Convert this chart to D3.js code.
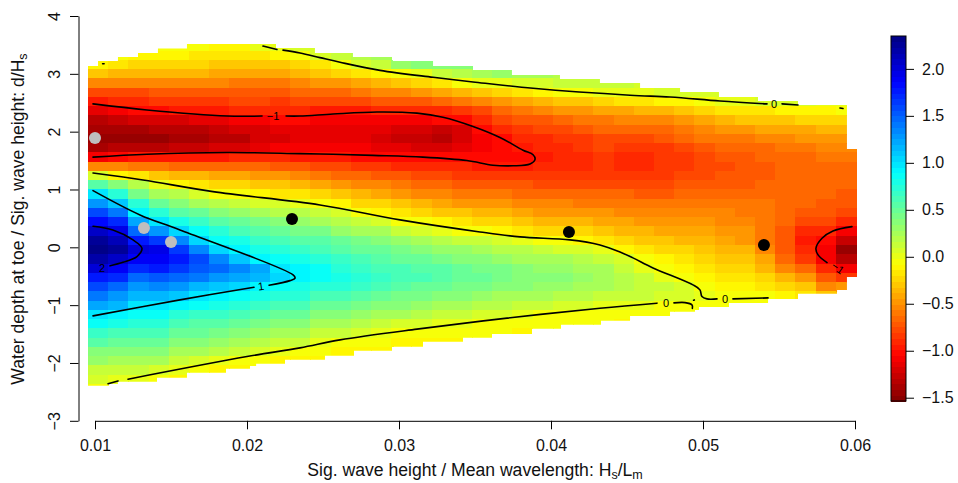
<!DOCTYPE html>
<html><head><meta charset="utf-8">
<script src="https://cdn.jsdelivr.net/npm/d3@7"></script>
<style>
html,body{margin:0;padding:0;background:#fff}
svg{display:block}
text{font-family:"Liberation Sans",Arial,sans-serif;fill:#111}
</style></head><body><svg id="c" width="958" height="483"></svg>
<script>
// ---- data ----
const xTicks=[0.01,0.02,0.03,0.04,0.05,0.06];
const yTicks=[-3,-2,-1,0,1,2,3,4];
const legendTicks=[-1.5,-1,-0.5,0,0.5,1,1.5,2];
const valueMin=-1.535, valueMax=2.35, levels=64;
const jetStops=[0,0.125,0.375,0.625,0.875,1];
const jetColors=["#800000","#ff0000","#ffff00","#00ffff","#0000ff","#000080"];
const cellW=0.00133, cellH=0.16;
const xCells=d3.range(38).map(i=>0.0102+i*cellW);
const yCells=[3.48,3.32,3.16,3,2.84,2.68,2.52,2.36,2.2,2.04,1.88,1.72,1.56,1.4,1.24,1.08,0.92,0.76,0.6,0.44,0.28,0.12,-0.04,-0.2,-0.36,-0.52,-0.68,-0.84,-1,-1.16,-1.32,-1.48,-1.64,-1.8,-1.96,-2.12,-2.28,-2.44];
// first row index of each column, then the column's values in hundredths
const firstRow=[2,1,1,0,0,0,0,0,0,0,0,0,1,1,1,2,2,2,2,3,3,3,3,3,4,4,4,4,5,5,5,5,6,6,6,6,6,6];
const fieldColumns=[
[-10,-30,-52,-78,-95,-115,-130,-140,-145,-138,-105,-55,5,55,100,130,160,185,205,225,230,220,200,180,160,140,125,100,85,70,55,40,30,15,5,-5],
[-5,-18,-35,-55,-78,-92,-108,-125,-140,-147,-135,-100,-55,-10,35,75,110,140,170,195,215,225,210,190,170,150,130,115,95,80,65,52,38,28,15,2],
[-8,-20,-35,-55,-75,-90,-103,-122,-138,-146,-132,-98,-60,-18,18,45,72,95,122,150,180,203,190,170,150,130,114,100,88,75,62,50,37,26,14,0],
[-2,-10,-20,-35,-55,-72,-86,-100,-120,-135,-143,-130,-97,-62,-28,2,26,50,75,100,130,165,195,190,175,155,135,115,97,85,72,60,47,35,23,10,-3],
[-4,-12,-22,-36,-55,-70,-84,-98,-118,-132,-140,-128,-96,-64,-33,-8,18,37,58,78,105,135,165,175,165,148,130,108,90,76,64,52,40,28,15,1,-8],
[-6,-14,-25,-38,-55,-70,-82,-95,-115,-130,-138,-125,-95,-65,-37,-15,8,28,48,68,85,107,135,160,155,138,118,98,84,70,58,47,35,23,10,-5],
[-8,-16,-27,-40,-56,-70,-81,-93,-112,-127,-134,-122,-94,-66,-40,-20,-2,20,38,56,73,88,105,135,148,130,110,93,78,66,54,42,30,17,2,-8],
[-8,-17,-28,-42,-57,-70,-80,-91,-108,-123,-130,-118,-92,-66,-44,-24,-6,14,32,48,64,78,92,110,135,125,105,88,74,62,50,38,26,13,-2,-10],
[-1,-16,-30,-44,-58,-70,-80,-92,-105,-118,-123,-113,-90,-68,-47,-28,-10,9,27,43,57,70,82,94,122,115,95,80,68,56,44,32,20,7,-6],
[3,-12,-28,-42,-57,-70,-81,-92,-103,-114,-118,-110,-90,-70,-50,-32,-14,5,22,37,50,63,75,87,98,105,88,74,62,50,38,26,13,0,-8],
[8,-4,-20,-36,-52,-66,-80,-92,-103,-112,-116,-108,-93,-74,-55,-36,-18,-1,17,32,46,58,70,80,90,95,83,72,60,50,38,26,12,-4,-10],
[10,5,-14,-32,-50,-65,-80,-93,-105,-112,-115,-108,-94,-76,-58,-40,-22,-5,12,28,42,54,65,75,84,87,75,63,51,39,27,15,3,-6,-10],
[15,-4,-26,-46,-63,-79,-93,-105,-112,-115,-108,-96,-80,-63,-46,-29,-12,5,20,34,47,58,68,76,80,72,60,47,35,23,11,-3,-8],
[22,5,-18,-41,-60,-77,-93,-105,-113,-117,-110,-99,-84,-68,-52,-36,-20,-2,14,28,41,52,62,70,74,68,56,43,31,18,5,-5,-8],
[28,12,-8,-34,-55,-74,-92,-106,-115,-120,-112,-101,-86,-71,-56,-41,-26,-10,8,23,36,47,57,65,69,62,51,39,27,14,1,-6,-9],
[30,-3,-28,-51,-72,-92,-108,-120,-125,-116,-103,-88,-74,-60,-46,-31,-17,-3,14,29,41,52,61,64,56,46,35,23,10,-2,-8],
[38,4,-22,-47,-70,-91,-108,-122,-128,-118,-104,-91,-78,-65,-51,-37,-23,-7,9,25,37,48,57,60,52,42,31,19,6,-4,-8],
[40,12,-14,-42,-67,-88,-104,-124,-130,-120,-104,-92,-80,-68,-55,-42,-28,-13,4,20,33,44,53,56,49,39,28,16,3,-5,-8],
[35,18,-6,-36,-62,-84,-100,-118,-122,-114,-103,-92,-81,-69,-57,-45,-32,-18,-2,16,29,40,49,52,46,36,25,13,1,-6,-8],
[28,0,-30,-55,-76,-90,-100,-110,-108,-100,-97,-84,-71,-59,-47,-35,-22,-7,12,25,36,45,48,42,32,21,9,-2,-7],
[30,2,-25,-48,-66,-79,-88,-99,-103,-102,-98,-85,-72,-60,-49,-38,-26,-11,8,22,33,42,43,38,28,17,5,-3,-7],
[28,7,-16,-42,-60,-74,-84,-92,-97,-102,-98,-86,-74,-63,-52,-42,-30,-17,3,17,28,37,40,36,26,15,2,-4,-8],
[25,10,-10,-36,-55,-69,-80,-88,-92,-94,-92,-85,-75,-65,-55,-45,-33,-20,-3,12,25,34,37,33,23,12,-2,-6],
[22,12,-5,-32,-50,-64,-76,-85,-89,-91,-90,-84,-75,-66,-56,-46,-35,-22,-4,10,23,32,35,31,21,9,-4,-7],
[14,-2,-27,-46,-60,-71,-82,-86,-88,-88,-83,-75,-66,-57,-48,-37,-25,-8,8,20,28,30,27,18,6,-4,-7],
[15,0,-22,-42,-57,-68,-75,-80,-84,-85,-83,-76,-67,-58,-50,-40,-29,-14,3,15,23,26,24,16,4,-4,-7],
[14,2,-18,-40,-56,-67,-76,-83,-87,-87,-83,-76,-68,-60,-52,-43,-33,-21,-8,5,15,21,20,12,2,-5,-8],
[10,4,-15,-38,-54,-66,-76,-84,-88,-87,-83,-76,-69,-62,-54,-46,-37,-27,-16,-6,4,13,16,11,0,-6],
[6,-12,-34,-51,-63,-73,-81,-85,-85,-81,-75,-69,-62,-55,-48,-40,-31,-21,-12,-5,4,12,8,-3,-6],
[7,-8,-29,-46,-58,-68,-76,-81,-81,-78,-73,-68,-62,-56,-49,-42,-34,-26,-18,-10,-3,6,6,-3,-6],
[8,-2,-22,-40,-52,-62,-70,-76,-77,-75,-71,-67,-62,-56,-50,-44,-37,-30,-23,-17,-11,-5,0,-3],
[8,0,-18,-36,-49,-60,-68,-73,-75,-74,-71,-67,-62,-56,-51,-47,-42,-35,-28,-21,-15,-9,-3,-5],
[2,-16,-32,-46,-57,-66,-71,-73,-72,-70,-66,-62,-57,-53,-50,-45,-38,-31,-24,-17,-10,-4,-5],
[5,-14,-30,-44,-55,-63,-68,-70,-70,-68,-65,-62,-60,-60,-60,-58,-56,-44,-34,-24,-14,-5,-6],
[6,-12,-28,-42,-52,-60,-65,-67,-68,-67,-66,-65,-66,-68,-72,-74,-72,-64,-52,-38,-24,-9],
[5,-10,-26,-40,-50,-58,-63,-66,-67,-67,-67,-68,-74,-80,-87,-93,-92,-82,-66,-50,-32,-15],
[4,-8,-24,-38,-48,-56,-61,-64,-66,-67,-68,-70,-74,-80,-90,-102,-110,-106,-92,-74,-52,-28],
[2,-7,-22,-36,-46,-55,-60,-63,-65,-67,-70,-73,-78,-88,-105,-128,-142,-130,-110,-85,-50]
];
// staircase outline of the covered area
const topX=[.00954,.0102,.01151,.01283,.01414,.01605,.02191,.02447,.02697,.0296,.03224,.03487,.03743,.04059,.04322,.04586,.04849,.05105,.05362,.05625,.05947,.06013];
const topY=[3.135,3.22,3.29,3.36,3.44,3.515,3.446,3.36,3.29,3.22,3.135,3.066,2.98,2.91,2.84,2.755,2.686,2.6,2.53,2.46,1.7,1.7];
const bottomX=[.00954,.01151,.01408,.01605,.01862,.0206,.0225,.02513,.02704,.02967,.03158,.03421,.03612,.03875,.04066,.04329,.0452,.04783,.04974,.05171,.05428,.05625,.05882,.05947,.06013];
const bottomY=[-2.395,-2.326,-2.257,-2.171,-2.1,-2.015,-1.946,-1.877,-1.79,-1.72,-1.635,-1.566,-1.497,-1.41,-1.34,-1.272,-1.186,-1.116,-1.03,-.961,-.892,-.805,-.736,-.512,-.512];
// contour lines [x,y]
const contours=[
[[.0105,3.175],[.0106,3.175]],
[[.02105,3.48],[.02197,3.42]],
[[.02237,3.41],[.02349,3.36],[.0248,3.28],[.02612,3.2],[.02875,3.06],[.03224,2.94],[.03487,2.86],[.03882,2.75],[.0452,2.63],[.04783,2.6],[.05112,2.53],[.05421,2.48]],
[[.0552,2.48],[.05625,2.46]],
[[.05901,2.41],[.05921,2.4]],
[[.00987,2.48],[.01342,2.375],[.01868,2.27],[.02099,2.27]],
[[.02257,2.27],[.02349,2.27],[.02566,2.305],[.02855,2.34],[.03118,2.32],[.03289,2.25],[.03487,2.09],[.03664,1.9],[.03816,1.68],[.03882,1.6],[.03895,1.52],[.03862,1.44],[.0375,1.41],[.03618,1.42],[.03447,1.5],[.03158,1.56],[.02829,1.59],[.02566,1.61],[.02349,1.62],[.01868,1.64],[.01342,1.61],[.00987,1.56]],
[[.00987,1.286],[.01316,1.165],[.01776,.963],[.0248,.733],[.03007,.474],[.03533,.266],[.03796,.18],[.04125,.128],[.04322,.041],[.04454,-.08],[.04539,-.183],[.04671,-.356],[.04934,-.65],[.0498,-.736],[.04993,-.852],[.05026,-.892],[.05092,-.892]],
[[.05197,-.892],[.05428,-.875]],
[[.01086,-2.36],[.01151,-2.31]],
[[.01217,-2.28],[.02,-1.889],[.02349,-1.739],[.02612,-1.6],[.03118,-1.415],[.03711,-1.225],[.04322,-1.053],[.04697,-.966]],
[[.04809,-.961],[.04882,-.956],[.04928,-.996],[.0493,-1.056]],
[[.04938,-.914],[.04943,-.91]],
[[.00987,.98],[.01296,.56],[.01559,.3],[.02303,-.477],[.02316,-.534],[.02283,-.576],[.02145,-.655]],
[[.02046,-.69],[.01559,-.909],[.00987,-1.186]],
[[.00987,.365],[.01118,.3],[.0125,.128],[.01309,-.016],[.01276,-.16],[.01184,-.258],[.01099,-.32]],
[[.0598,.358],[.05855,.283],[.05783,.157],[.05743,-.016],[.05757,-.131],[.05816,-.264]]
];
const labelText=["\u22121","0","1","0","0","2","\u22121"];
const labelX=[.02171,.05467,.02092,.04757,.05145,.01046,.05888];
const labelY=[2.27,2.48,-.67,-.96,-.89,-.35,-.355];
const labelAngle=[0,0,-8,0,0,0,35];
const blackX=[.02296,.04118,.05401], blackY=[.49,.266,.04];
const greyX=[.01,.01322,.015], greyY=[1.89,.335,.093];

// ---- drawing ----
const svg=d3.select("#c");
const x=d3.scaleLinear().domain([.01,.06]).range([95,855]);
const y=d3.scaleLinear().domain([-3,4]).range([420.8,16]);
const legendY=d3.scaleLinear().domain([valueMin,valueMax]).range([401,36]);
const jet=d3.scaleLinear().domain(jetStops).range(jetColors).interpolate(d3.interpolateRgb);
const colour=v=>{
  const k=Math.max(0,Math.min(levels-1,Math.floor((v-valueMin)/(valueMax-valueMin)*levels)));
  return jet((k+.5)/levels);
};
const outline=[];
topX.forEach((v,i)=>{outline.push([v,topY[i]]);if(i<topX.length-1)outline.push([topX[i+1],topY[i]]);});
for(let i=bottomX.length-1;i>=0;i--){
  if(i<bottomX.length-1)outline.push([bottomX[i+1],bottomY[i]]);
  outline.push([bottomX[i],bottomY[i]]);
}
svg.append("defs").append("clipPath").attr("id","cover").append("path")
  .attr("d",d3.line().x(d=>x(d[0])).y(d=>y(d[1]))(outline)+"Z");

const cells=[];
fieldColumns.forEach((col,i)=>col.forEach((v,j)=>cells.push({x:xCells[i],y:yCells[firstRow[i]+j],v:v/100})));
svg.append("g").attr("clip-path","url(#cover)").attr("shape-rendering","crispEdges")
  .selectAll("rect").data(cells).join("rect")
  .attr("x",d=>x(d.x-cellW/2)).attr("width",x(cellW)-x(0)+.6)
  .attr("y",d=>y(d.y+cellH/2)).attr("height",y(0)-y(cellH)+.6)
  .attr("fill",d=>colour(d.v));

const line=d3.line().x(d=>x(d[0])).y(d=>y(d[1])).curve(d3.curveCatmullRom.alpha(.5));
svg.append("g").selectAll("path").data(contours).join("path")
  .attr("d",line).attr("fill","none").attr("stroke","#000").attr("stroke-width",1.6).attr("stroke-linecap","round");
svg.append("g").selectAll("text").data(labelText).join("text")
  .attr("transform",(d,i)=>`translate(${x(labelX[i])},${y(labelY[i])}) rotate(${labelAngle[i]})`)
  .attr("text-anchor","middle").attr("dy","0.36em").style("font-size","11px").style("fill","#000").text(d=>d);

svg.append("g").selectAll("circle").data(blackX).join("circle")
  .attr("cx",d=>x(d)).attr("cy",(d,i)=>y(blackY[i])).attr("r",6).attr("fill","#000");
svg.append("g").selectAll("circle").data(greyX).join("circle")
  .attr("cx",d=>x(d)).attr("cy",(d,i)=>y(greyY[i])).attr("r",6).attr("fill","#bebebe");

function styleAxis(g){
  g.selectAll("path,line").attr("stroke","#000").attr("stroke-width",1);
  g.selectAll("text").style("font-size","16px").style("font-family",'"Liberation Sans",Arial,sans-serif').attr("fill","#111");
}
const ax=svg.append("g").attr("transform","translate(0,420.8)")
  .call(d3.axisBottom(x).tickValues(xTicks).tickFormat(d3.format(".2f")).tickSize(8.5).tickSizeOuter(0).tickPadding(10));
styleAxis(ax);
const ay=svg.append("g").attr("transform","translate(78.5,0)")
  .call(d3.axisLeft(y).tickValues(yTicks).tickFormat(d3.format("d")).tickSize(8.5).tickSizeOuter(0));
styleAxis(ay);
ay.selectAll("text").attr("transform","rotate(-90)").attr("x",0).attr("y",-18.5).attr("dy",0).attr("text-anchor","middle").attr("dominant-baseline","auto");

const xt=svg.append("text").attr("x",475).attr("y",476).attr("text-anchor","middle").style("font-size","17.6px");
xt.append("tspan").text("Sig. wave height / Mean wavelength: H");
xt.append("tspan").text("s").attr("dy",3).style("font-size","12.5px");
xt.append("tspan").text("/L").attr("dy",-3);
xt.append("tspan").text("m").attr("dy",3).style("font-size","12.5px");
const yt=svg.append("text").attr("transform","translate(24,219) rotate(-90)").attr("text-anchor","middle").style("font-size","17.6px");
yt.append("tspan").text("Water depth at toe / Sig. wave height: d/H");
yt.append("tspan").text("s").attr("dy",3).style("font-size","12.5px");

// colour bar
const legendLevels=d3.range(levels);
const stepV=(valueMax-valueMin)/levels;
svg.append("g").attr("shape-rendering","crispEdges").selectAll("rect").data(legendLevels).join("rect")
  .attr("x",891).attr("width",15)
  .attr("y",k=>legendY(valueMin+(k+1)*stepV)).attr("height",legendY(0)-legendY(stepV)+.6)
  .attr("fill",k=>jet((k+.5)/levels));
svg.append("rect").attr("x",891).attr("y",36).attr("width",15).attr("height",365).attr("fill","none").attr("stroke","#000").attr("stroke-width",1);
const al=svg.append("g").attr("transform","translate(906,0)")
  .call(d3.axisRight(legendY).tickValues(legendTicks).tickFormat(d3.format(".1f")).tickSize(8).tickSizeOuter(0).tickPadding(8));
styleAxis(al);
al.select(".domain").remove();
</script></body></html>
